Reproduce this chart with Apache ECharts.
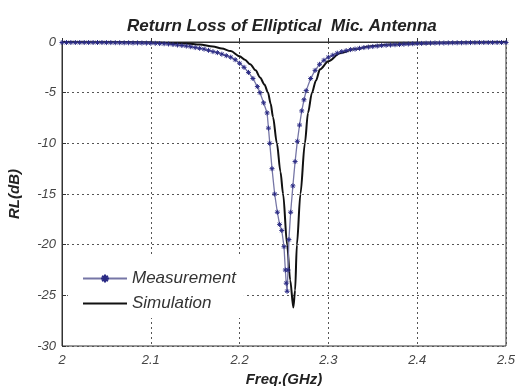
<!DOCTYPE html>
<html>
<head>
<meta charset="utf-8">
<script src="https://cdn.jsdelivr.net/npm/echarts@6/dist/echarts.min.js"></script>
<style>
  html, body { margin: 0; padding: 0; background: #fff; }
  .box { width: 516px; height: 386px; }
</style>
</head>
<body>
<div class="box"></div>
<script>
// measured return loss (GHz, dB)
let measFreq = [2.000, 2.005, 2.010, 2.015, 2.020, 2.025, 2.030, 2.035, 2.040, 2.045,
  2.050, 2.055, 2.060, 2.065, 2.070, 2.075, 2.080, 2.085, 2.090, 2.095,
  2.100, 2.105, 2.110, 2.115, 2.120, 2.125, 2.130, 2.135, 2.140, 2.145,
  2.150, 2.155, 2.160, 2.165, 2.170, 2.175, 2.180, 2.185, 2.190, 2.195,
  2.200, 2.205, 2.210, 2.215, 2.220, 2.223, 2.227, 2.231, 2.2325, 2.234,
  2.2365, 2.2395, 2.2425, 2.245, 2.2475, 2.250, 2.2515, 2.2525, 2.2535, 2.2545,
  2.2555, 2.2575, 2.260, 2.2625, 2.265, 2.2675, 2.270, 2.2725, 2.275, 2.280,
  2.285, 2.290, 2.295, 2.300, 2.305, 2.310, 2.315, 2.320, 2.325, 2.330,
  2.335, 2.340, 2.345, 2.350, 2.355, 2.360, 2.365, 2.370, 2.375, 2.380,
  2.385, 2.390, 2.395, 2.400, 2.405, 2.410, 2.415, 2.420, 2.425, 2.430,
  2.435, 2.440, 2.445, 2.450, 2.455, 2.460, 2.465, 2.470, 2.475, 2.480,
  2.485, 2.490, 2.495, 2.500];
let measRL = [-0.05, -0.05, -0.05, -0.05, -0.05, -0.05, -0.05, -0.05, -0.05, -0.05,
  -0.06, -0.06, -0.07, -0.07, -0.08, -0.08, -0.09, -0.09, -0.1, -0.11,
  -0.12, -0.13, -0.15, -0.17, -0.2, -0.25, -0.3, -0.35, -0.4, -0.47,
  -0.55, -0.62, -0.7, -0.82, -0.95, -1.05, -1.2, -1.35, -1.5, -1.75,
  -2.1, -2.5, -3.0, -3.6, -4.4, -5.0, -6.0, -7.0, -8.5, -10.0,
  -12.5, -15.0, -16.8, -18.0, -18.6, -20.2, -22.5, -23.8, -24.6, -22.5,
  -19.5, -16.8, -14.2, -11.8, -9.8, -8.2, -6.8, -5.7, -4.8, -3.6,
  -2.8, -2.2, -1.8, -1.5, -1.3, -1.1, -0.95, -0.85, -0.75, -0.7,
  -0.62, -0.55, -0.5, -0.45, -0.4, -0.35, -0.32, -0.3, -0.27, -0.25,
  -0.22, -0.2, -0.17, -0.15, -0.14, -0.12, -0.11, -0.1, -0.1, -0.1,
  -0.09, -0.08, -0.08, -0.08, -0.07, -0.06, -0.06, -0.05, -0.05, -0.05,
  -0.05, -0.05, -0.05, -0.05];

// simulated return loss
let simFreq = [2.00, 2.05, 2.10, 2.12, 2.14, 2.155, 2.17, 2.18, 2.19, 2.20,
  2.206, 2.212, 2.218, 2.223, 2.228, 2.232, 2.235, 2.2376, 2.242, 2.246,
  2.249, 2.2535, 2.257, 2.2605, 2.2625, 2.2645, 2.2685, 2.2735, 2.277, 2.2815,
  2.286, 2.2905, 2.30, 2.313, 2.33, 2.35, 2.37, 2.40, 2.45, 2.50];
let simRL = [0, -0.02, -0.05, -0.1, -0.15, -0.25, -0.45, -0.65, -0.9, -1.4,
  -1.75, -2.2, -2.8, -3.5, -4.2, -5.0, -6.1, -7.4, -10, -12.8,
  -15, -20, -23.5, -26.2, -24.5, -20, -15, -10, -7, -5,
  -3.8, -2.7, -1.9, -1.1, -0.7, -0.4, -0.25, -0.15, -0.05, 0];

window.addEventListener('load', function () {
  let box = document.querySelector('.box');
  let mychart = echarts.init(box);
  let font = 'Liberation Sans, Arial, sans-serif';

  let options = {
    backgroundColor: '#fff',
    animation: false,
    title: {
      text: 'Return Loss of Elliptical  Mic. Antenna',
      left: 122,
      top: 13,
      textStyle: { fontFamily: font, fontSize: 17, fontWeight: 'bold', fontStyle: 'italic', color: '#222' }
    },
    legend: {
      orient: 'vertical',
      left: 68,
      top: 256,
      itemWidth: 44,
      itemHeight: 10,
      itemGap: 8,
      padding: [14, 8, 6, 14],
      backgroundColor: '#fff',
      textStyle: { fontFamily: font, fontSize: 17, fontStyle: 'italic', color: '#333' },
      data: [
        { name: 'Measurement' },
        { name: 'Simulation', icon: 'path://M0,0L44,0L44,2.2L0,2.2Z' }
      ]
    },
    grid: {
      left: 62, right: 10, top: 42, bottom: 40,
      outerBoundsMode: 'none',
      show: true, borderColor: '#333', borderWidth: 1
    },
    xAxis: {
      type: 'value',
      min: 2, max: 2.5, interval: 0.1,
      name: 'Freq.(GHz)',
      nameLocation: 'middle',
      nameGap: 24,
      nameTextStyle: { fontFamily: font, fontSize: 15, fontWeight: 'bold', fontStyle: 'italic', color: '#222' },
      axisLine: { lineStyle: { color: '#333' } },
      axisTick: { inside: true, length: 4, lineStyle: { color: '#333' } },
      axisLabel: { fontFamily: font, fontSize: 13, fontStyle: 'italic', color: '#444', margin: 8 },
      splitLine: { lineStyle: { type: [2, 3], color: '#555', width: 1 } }
    },
    yAxis: {
      type: 'value',
      min: -30, max: 0, interval: 5,
      name: 'RL(dB)',
      nameLocation: 'middle',
      nameGap: 40,
      nameTextStyle: { fontFamily: font, fontSize: 15, fontWeight: 'bold', fontStyle: 'italic', color: '#222' },
      axisLine: { show: true, lineStyle: { color: '#333' } },
      axisTick: { show: true, inside: true, length: 4, lineStyle: { color: '#333' } },
      axisLabel: { fontFamily: font, fontSize: 13, fontStyle: 'italic', color: '#444', margin: 6 },
      splitLine: { lineStyle: { type: [2, 3], color: '#555', width: 1 } }
    },
    series: [
      {
        name: 'Measurement',
        type: 'line',
        data: measFreq.map((f, i) => [f, measRL[i]]),
        symbol: 'path://M0,5L10,5M5,0L5,10M1.5,1.5L8.5,8.5M8.5,1.5L1.5,8.5',
        symbolSize: 5,
        showAllSymbol: true,
        lineStyle: { color: '#7676a6', width: 1.3 },
        itemStyle: { color: '#2b2b85', borderColor: '#2b2b85', borderWidth: 1 },
        z: 3
      },
      {
        name: 'Simulation',
        type: 'line',
        data: simFreq.map((f, i) => [f, simRL[i]]),
        symbol: 'none',
        smooth: 0.3,
        smoothMonotone: 'x',
        lineStyle: { color: '#111', width: 2 },
        itemStyle: { color: '#111' },
        z: 2
      }
    ]
  };

  mychart.setOption(options);
});
</script>
</body>
</html>
